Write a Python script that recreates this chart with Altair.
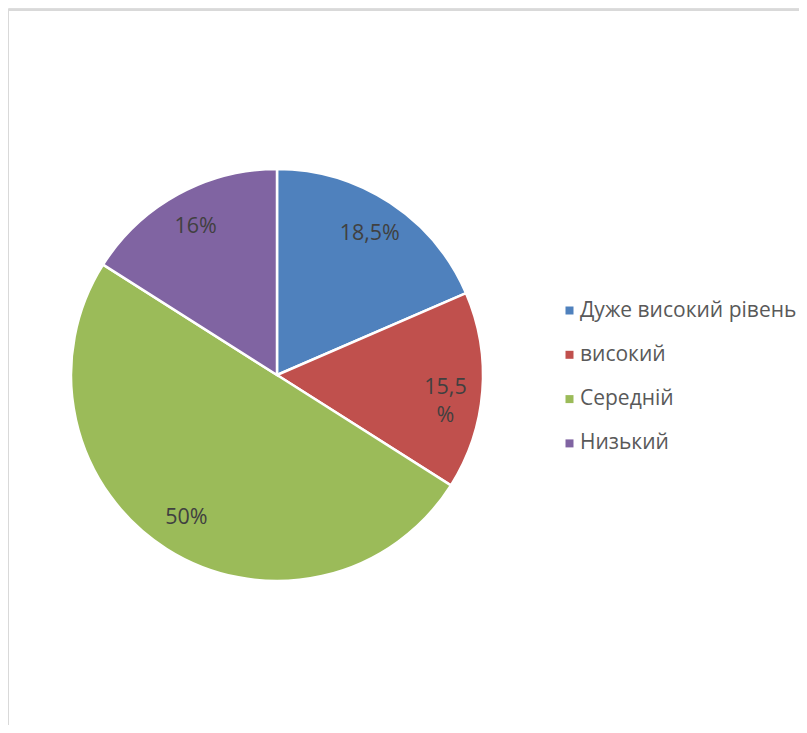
import altair as alt
import pandas as pd

categories = ["Дуже високий рівень", "високий", "Середній", "Низький"]
values = [18.5, 15.5, 50, 16]
labels = ["18,5%", "15,5\n%", "50%", "16%"]
colors = ["#4F81BD", "#C0504D", "#9BBB59", "#8064A2"]

df = pd.DataFrame({
    "category": categories,
    "value": values,
    "label": labels,
    "idx": list(range(len(categories))),
})

FONT = "Open Sans"
CX, CY, R = 269, 367, 206

base = alt.Chart(df).encode(
    theta=alt.Theta("value:Q", stack=True),
    order=alt.Order("idx:Q", sort="ascending"),
)

pie = base.mark_arc(radius=R, stroke="white", strokeWidth=2.5).encode(
    x=alt.value(CX),
    y=alt.value(CY),
    color=alt.Color(
        "category:N",
        scale=alt.Scale(domain=categories, range=colors),
        legend=alt.Legend(
            title=None,
            orient="none",
            legendX=551,
            legendY=292,
            symbolType="square",
            symbolSize=64,
            symbolStrokeWidth=0,
            labelFont=FONT,
            labelFontSize=21,
            labelColor="#595959",
            labelOffset=0,
            rowPadding=22.3,
            padding=0,
            labelLimit=400,
        ),
    ),
)

text = base.mark_text(
    radius=169,
    font=FONT,
    fontSize=21.5,
    color="#404040",
    lineBreak="\n",
    lineHeight=28,
).encode(
    x=alt.value(CX),
    y=alt.value(CY),
    text="label:N",
)

border_left = alt.Chart(df).mark_rule(color="#d9d9d9", strokeWidth=1.5).encode(
    x=alt.value(0), y=alt.value(2), y2=alt.value(717)
)
border_top = alt.Chart(df).mark_rule(color="#d9d9d9", strokeWidth=1.5).encode(
    x=alt.value(0), x2=alt.value(791), y=alt.value(2)
)

chart = alt.layer(pie, text, border_left, border_top).properties(
    width=791, height=717, padding=0,
    autosize=alt.AutoSizeParams(type="none"),
).configure_view(stroke="transparent", strokeWidth=0).configure(background="white")

chart.save("out.html", embed_options={"renderer": "svg", "actions": False})
